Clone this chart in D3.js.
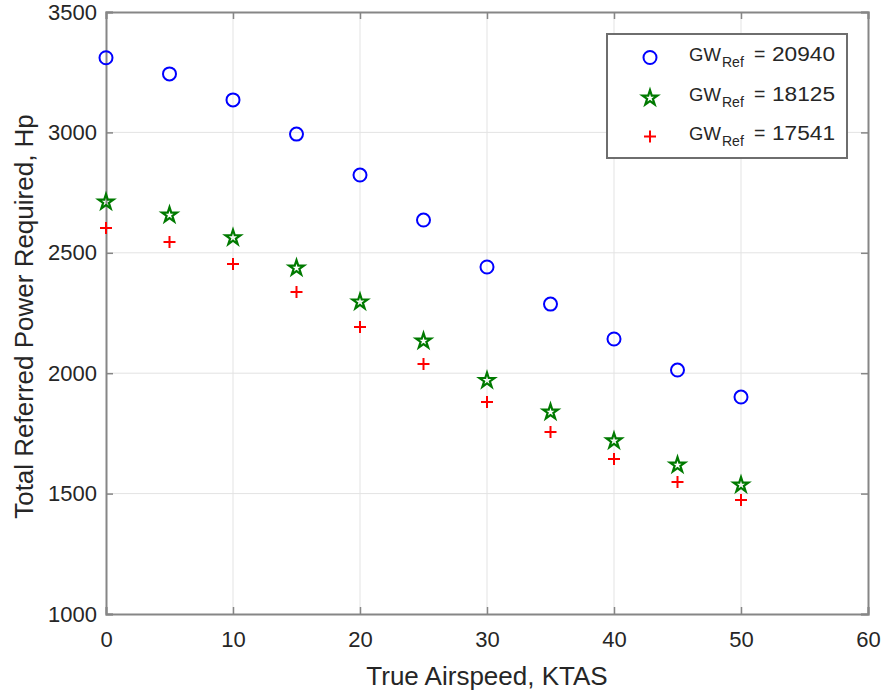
<!DOCTYPE html>
<html><head><meta charset="utf-8">
<script src="https://cdn.jsdelivr.net/npm/d3@7"></script>
<style>body{margin:0;background:#fff}text{font-family:"Liberation Sans",Arial,sans-serif}</style>
</head><body><svg id="c" width="885" height="693"></svg>
<script>
const speeds = [0,5,10,15,20,25,30,35,40,45,50];
const gw20940 = [3310,3243,3135,2993,2823,2636,2441,2287,2142,2013,1901];
const gw18125 = [2715,2661,2567,2441,2300,2138,1974,1843,1723,1623,1540];
const gw17541 = [2603,2545,2453,2337,2192,2038,1880,1756,1644,1548,1473];
const xTicks = [0,10,20,30,40,50,60];
const yTicks = [1000,1500,2000,2500,3000,3500];
const legendLabels = ["20940","18125","17541"];

const svg = d3.select("#c");
const L=106,R=868,T=12,B=614;
const x = d3.scaleLinear().domain([0,60]).range([L,R]);
const y = d3.scaleLinear().domain([1000,3500]).range([B,T]);
const axisCol="#868686", txtCol="#262626";

// grid
svg.append("g").selectAll("line").data(xTicks.slice(1,-1)).join("line")
 .attr("x1",d=>x(d)).attr("x2",d=>x(d)).attr("y1",T).attr("y2",B)
 .attr("stroke","#e3e3e3").attr("stroke-width",1);
svg.append("g").selectAll("line").data(yTicks.slice(1,-1)).join("line")
 .attr("y1",d=>y(d)).attr("y2",d=>y(d)).attr("x1",L).attr("x2",R)
 .attr("stroke","#e3e3e3").attr("stroke-width",1);

// axes
const xa = svg.append("g").attr("transform",`translate(0,${B})`)
 .call(d3.axisBottom(x).tickValues(xTicks).tickSize(-7).tickPadding(17));
const ya = svg.append("g").attr("transform",`translate(${L},0)`)
 .call(d3.axisLeft(y).tickValues(yTicks).tickSize(-7).tickPadding(9).tickFormat(d3.format("d")));
const xt = svg.append("g").attr("transform",`translate(0,${T})`)
 .call(d3.axisTop(x).tickValues(xTicks).tickSize(-7).tickFormat(""));
const yr = svg.append("g").attr("transform",`translate(${R},0)`)
 .call(d3.axisRight(y).tickValues(yTicks).tickSize(-7).tickFormat(""));
[xa,ya,xt,yr].forEach(g=>{
  g.select(".domain").attr("stroke",axisCol).attr("stroke-width",2);
  g.selectAll(".tick line").attr("stroke",axisCol).attr("stroke-width",1.5);
  g.selectAll("text").attr("fill",txtCol).style("font-size","22px").style("font-family","'Liberation Sans',Arial,sans-serif");
});
xa.selectAll(".tick text").attr("dy","0.71em");

svg.append("text").attr("x",(L+R)/2).attr("y",685).attr("text-anchor","middle")
 .attr("fill",txtCol).style("font-size","26px").text("True Airspeed, KTAS");
svg.append("text").attr("transform",`translate(33,316.5) rotate(-90)`).attr("text-anchor","middle")
 .attr("fill",txtCol).style("font-size","26px").text("Total Referred Power Required, Hp");

const star = d3.symbol().type(d3.symbolStar).size(70);
function drawMarker(g, kind){
  if(kind===0) g.append("circle").attr("r",6.5).attr("fill","none").attr("stroke","#0000ff").attr("stroke-width",2);
  else if(kind===1) g.append("path").attr("d",star()).attr("transform","translate(0,1)").attr("fill","none").attr("stroke","#007a00").attr("stroke-width",2.2).attr("stroke-linejoin","miter");
  else { g.append("path").attr("d","M-6,0H6M0,-6V6").attr("stroke","#ff0000").attr("stroke-width",2); }
}
const series=[gw20940,gw18125,gw17541];
series.forEach((s,k)=>{
  speeds.forEach((sp,i)=>{
    drawMarker(svg.append("g").attr("transform",`translate(${x(sp)},${y(s[i])})`),k);
  });
});

// legend
const lg = svg.append("g");
lg.append("rect").attr("x",607).attr("y",34).attr("width",240).attr("height",124)
 .attr("fill","#fff").attr("stroke","#6e6e6e").attr("stroke-width",2);
legendLabels.forEach((lab,k)=>{
  const cy = 57.5 + k*39.5;
  const base = cy + 3.5;
  drawMarker(lg.append("g").attr("transform",`translate(650,${cy})`),k);
  lg.append("text").attr("x",689).attr("y",base).attr("fill",txtCol).style("font-size","18.5px").text("GW");
  lg.append("text").attr("x",722).attr("y",base+6).attr("fill",txtCol).style("font-size","14px").text("Ref");
  lg.append("text").attr("x",754).attr("y",base).attr("fill",txtCol).style("font-size","19.5px").text("=");
  lg.append("text").attr("x",772).attr("y",base).attr("fill",txtCol).style("font-size","19.5px")
    .attr("textLength",63).attr("lengthAdjust","spacingAndGlyphs").text(lab);
});
</script></body></html>
